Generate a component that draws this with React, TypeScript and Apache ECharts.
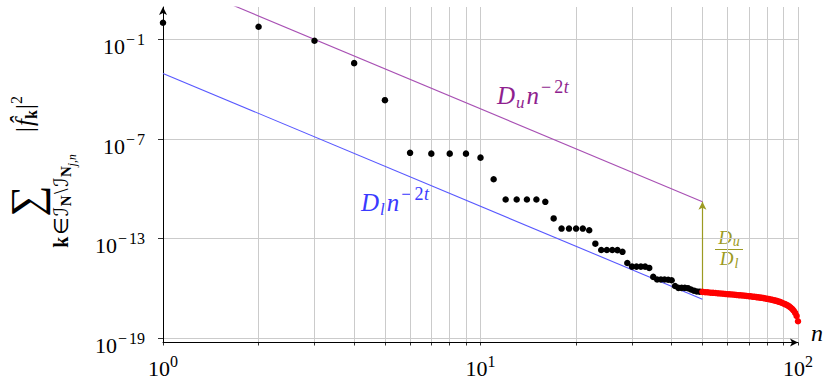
import React, { useEffect, useRef } from "react";
import * as echarts from "echarts";

// n = 1 … 49 (black) and n = 50 … 100 (red); values stored as log10 of the tail sum
const blackN = [
  1, 2, 3, 4, 5, 6, 7, 8, 9, 10, 11, 12, 13, 14, 15, 16, 17, 18, 19, 20, 21, 22, 23, 24, 25,
  26, 27, 28, 29, 30, 31, 32, 33, 34, 35, 36, 37, 38, 39, 40, 41, 42, 43, 44, 45, 46, 47, 48, 49,
];
const blackLog10 = [
  0.0, -0.24, -1.08, -2.43, -4.66, -7.83, -7.88, -7.88, -7.88, -8.12,
  -9.42, -10.64, -10.64, -10.64, -10.64, -10.78, -11.78, -12.39, -12.39, -12.39,
  -12.39, -12.49, -13.3, -13.68, -13.68, -13.68, -13.69, -13.79, -14.46, -14.68,
  -14.68, -14.68, -14.68, -14.76, -15.3, -15.46, -15.46, -15.46, -15.47, -15.5,
  -15.85, -15.96, -15.96, -15.96, -15.98, -16.06, -16.13, -16.18, -16.19,
];
const redN = [
  50, 51, 52, 53, 54, 55, 56, 57, 58, 59, 60, 61, 62, 63, 64, 65, 66, 67, 68, 69, 70, 71, 72, 73, 74, 75,
  76, 77, 78, 79, 80, 81, 82, 83, 84, 85, 86, 87, 88, 89, 90, 91, 92, 93, 94, 95, 96, 97, 98, 99, 100,
];
const redLog10 = [
  -16.2, -16.22, -16.23, -16.25, -16.26, -16.27, -16.29, -16.3, -16.31, -16.33,
  -16.34, -16.35, -16.36, -16.37, -16.39, -16.4, -16.41, -16.42, -16.43, -16.45,
  -16.46, -16.47, -16.49, -16.5, -16.52, -16.53, -16.55, -16.56, -16.58, -16.6,
  -16.62, -16.64, -16.66, -16.68, -16.71, -16.73, -16.76, -16.79, -16.82, -16.86,
  -16.9, -16.94, -16.98, -17.03, -17.09, -17.16, -17.24, -17.34, -17.47, -17.65,
  -17.97,
];

// bounds D_u n^{-2t} and D_l n^{-2t}
const t = 4;
const log10Du = 2.817;
const log10Dl = -3.05;
const boundStartN = 1;
const boundEndN = 50;

// axes (log10 scale)
const xRange = [0, 2];
const yRange = [-19.25, 0.95];
const xLabelExps = [0, 1, 2];
const xGridN = [1, 2, 3, 4, 5, 6, 7, 8, 9, 10, 20, 30, 40, 50, 60, 70, 80, 90, 100];
const yLabelExps = [-19, -13, -7, -1];

const SERIF = '"Liberation Serif", "DejaVu Serif", serif';
const SYMBOLS = '"DejaVu Sans", "Noto Sans", sans-serif';
const PURPLE_LINE = "#a850b4";
const PURPLE_TEXT = "#8f1f8f";
const BLUE_LINE = "#5858ff";
const BLUE_TEXT = "#3a3aff";
const OLIVE = "#9c9a22";
const GRID = "#cbcbcb";

let measureCtx: CanvasRenderingContext2D | null = null;
function textWidth(text: string, size: number, italic: boolean, bold: boolean, family: string): number {
  if (!measureCtx) measureCtx = document.createElement("canvas").getContext("2d");
  if (!measureCtx) return text.length * size * 0.5;
  measureCtx.font = `${italic ? "italic " : ""}${bold ? "bold " : ""}${size}px ${family}`;
  return measureCtx.measureText(text).width;
}

type Piece = {
  t: string;
  size: number;
  dy?: number;
  italic?: boolean;
  bold?: boolean;
  gap?: number;
  after?: number;
  family?: string;
};

// Lays a run of glyph pieces along a baseline; x is the left edge or the centre.
function mathRun(pieces: Piece[], x: number, baseline: number, color: string, center = false) {
  const widths = pieces.map(
    (p) =>
      textWidth(p.t, p.size, !!p.italic, !!p.bold, p.family || SERIF) + (p.gap || 0) + (p.after || 0)
  );
  const total = widths.reduce((a, b) => a + b, 0);
  let cx = center ? x - total / 2 : x;
  return pieces.map((p, i) => {
    const el = {
      type: "text",
      x: cx + (p.gap || 0),
      y: baseline + (p.dy || 0) - 0.34 * p.size,
      style: {
        text: p.t,
        fontSize: p.size,
        fontFamily: p.family || SERIF,
        fontStyle: p.italic ? "italic" : "normal",
        fontWeight: p.bold ? "bold" : "normal",
        fill: color,
        align: "left",
        verticalAlign: "middle",
      },
    };
    cx += widths[i];
    return el;
  });
}

const boundLabel = (sub: string): Piece[] => [
  { t: "D", size: 25, italic: true, after: 1 },
  { t: sub, size: 17, italic: true, dy: 4, after: 2 },
  { t: "n", size: 25, italic: true, after: 2 },
  { t: "\u2212", size: 18, dy: -11, after: 3 },
  { t: "2", size: 18, dy: -11, after: 0.5 },
  { t: "t", size: 18, italic: true, dy: -11 },
];

const expLabel = (v: number) => {
  const e = Math.round(v);
  return e < 0 ? `{b|10}{m|\u2212}{s|${Math.abs(e)}}` : `{b|10}{s|${e}}`;
};
const tickRich = {
  b: { fontFamily: SERIF, fontSize: 22, color: "#000", height: 20, lineHeight: 20, verticalAlign: "bottom" },
  m: {
    fontFamily: SERIF,
    fontSize: 16,
    color: "#000",
    height: 34,
    lineHeight: 34,
    verticalAlign: "top",
    padding: [0, 2, 0, 1],
  },
  s: { fontFamily: SERIF, fontSize: 16, color: "#000", height: 34, lineHeight: 34, verticalAlign: "top" },
};

function buildOption() {
  const lg = Math.log10;
  const black = blackN.map((n, i) => [lg(n), blackLog10[i]]);
  const red = redN.map((n, i) => [lg(n), redLog10[i]]);
  const bound = (logD: number) => [
    [lg(boundStartN), logD - 2 * t * lg(boundStartN)],
    [lg(boundEndN), logD - 2 * t * lg(boundEndN)],
  ];
  const arrowBottom = redLog10[redN.indexOf(boundEndN)];
  const arrowTop = log10Du - 2 * t * lg(boundEndN);

  // y-axis title: sum over k of |f_k|^2, drawn rotated
  const titleChildren: any[] = [
    {
      type: "text",
      x: 0,
      y: 0,
      style: { text: "\u2211", fontSize: 44, fontFamily: SERIF, fill: "#000", align: "center", verticalAlign: "middle" },
    },
    ...mathRun(
      [
        { t: "k", size: 20, bold: true, after: 1.5 },
        { t: "\u2208", size: 20, family: SYMBOLS, after: 1.5 },
        { t: "\u2110", size: 20, family: SYMBOLS, after: 0.5 },
        { t: "N", size: 15, bold: true, dy: 3, after: 1.5 },
        { t: "\\", size: 20, after: 1.5 },
        { t: "\u2110", size: 20, family: SYMBOLS, after: 0.5 },
        { t: "N", size: 15, bold: true, dy: 3 },
        { t: "j,n", size: 11.5, italic: true, dy: 8 },
      ],
      0,
      42,
      "#000",
      true
    ),
    ...mathRun(
      [
        { t: "|", size: 25 },
        { t: "f\u0302", size: 25, italic: true, gap: 1 },
        { t: "k", size: 16, bold: true, dy: 4, after: 1 },
        { t: "|", size: 25 },
        { t: "2", size: 16, dy: -11 },
      ],
      87,
      7,
      "#000",
      true
    ),
  ];

  return {
    animation: false,
    backgroundColor: "#fff",
    grid: { left: 163, right: 28, top: 7, bottom: 38.5, containLabel: false },
    xAxis: {
      type: "value",
      min: xRange[0],
      max: xRange[1],
      axisLine: {
        show: true,
        onZero: false,
        symbol: ["none", "arrow"],
        symbolSize: [6, 8],
        lineStyle: { color: "#000", width: 1 },
      },
      axisTick: {
        show: true,
        customValues: xGridN.map((n) => Math.log10(n)),
        length: 3,
        lineStyle: { color: "#000", width: 0.8 },
      },
      axisLabel: {
        customValues: xLabelExps,
        formatter: expLabel,
        rich: tickRich,
        margin: 2,
      },
      splitLine: { show: true, lineStyle: { color: GRID, width: 1 } },
    },
    yAxis: {
      type: "value",
      min: yRange[0],
      max: yRange[1],
      axisLine: {
        show: true,
        onZero: false,
        symbol: ["none", "arrow"],
        symbolSize: [6, 8],
        lineStyle: { color: "#000", width: 1 },
      },
      axisTick: {
        show: true,
        customValues: yLabelExps,
        length: 5,
        lineStyle: { color: "#000", width: 0.8 },
      },
      axisLabel: {
        customValues: yLabelExps,
        formatter: expLabel,
        rich: tickRich,
        margin: 18,
      },
      splitLine: { show: true, lineStyle: { color: GRID, width: 1 } },
    },
    series: [
      {
        name: "upper",
        type: "line",
        data: bound(log10Du),
        symbol: "none",
        lineStyle: { color: PURPLE_LINE, width: 1.1 },
        z: 3,
      },
      {
        name: "lower",
        type: "line",
        data: bound(log10Dl),
        symbol: "none",
        lineStyle: { color: BLUE_LINE, width: 1.1 },
        z: 3,
        markLine: {
          silent: true,
          symbol: ["none", "arrow"],
          symbolSize: [6, 8],
          label: { show: false },
          lineStyle: { color: OLIVE, width: 1.2, type: "solid" },
          data: [[{ coord: [lg(boundEndN), arrowBottom] }, { coord: [lg(boundEndN), arrowTop] }]],
        },
      },
      {
        name: "n \u2264 49",
        type: "scatter",
        data: black,
        symbol: "circle",
        symbolSize: 6.5,
        itemStyle: { color: "#000", opacity: 1 },
        z: 5,
      },
      {
        name: "n \u2265 50",
        type: "scatter",
        data: red,
        symbol: "circle",
        symbolSize: 6.5,
        itemStyle: { color: "#ff0000", opacity: 1 },
        z: 6,
      },
    ],
    graphic: [
      { type: "group", x: 26, y: 201, rotation: Math.PI / 2, children: titleChildren },
      ...mathRun(boundLabel("u"), 497, 104, PURPLE_TEXT),
      ...mathRun(boundLabel("l"), 361, 211, BLUE_TEXT),
      ...mathRun(
        [
          { t: "D", size: 19, italic: true, after: 1 },
          { t: "u", size: 14, italic: true, dy: 2 },
        ],
        729,
        244,
        OLIVE,
        true
      ),
      {
        type: "line",
        shape: { x1: 715, y1: 249.5, x2: 743, y2: 249.5 },
        style: { stroke: OLIVE, lineWidth: 1 },
      },
      ...mathRun(
        [
          { t: "D", size: 19, italic: true, after: 1 },
          { t: "l", size: 14, italic: true, dy: 3 },
        ],
        729,
        265,
        OLIVE,
        true
      ),
      ...mathRun([{ t: "n", size: 24, italic: true }], 811, 341, "#000"),
    ],
  };
}

export default function App() {
  const ref = useRef<HTMLDivElement>(null);
  useEffect(() => {
    if (!ref.current) return;
    const chart = echarts.init(ref.current, null, { renderer: "svg" });
    chart.setOption(buildOption() as any);
    return () => chart.dispose();
  }, []);
  return (
    <div
      ref={ref}
      style={{ position: "fixed", left: 0, top: 0, width: 826, height: 381, background: "#fff" }}
    />
  );
}
